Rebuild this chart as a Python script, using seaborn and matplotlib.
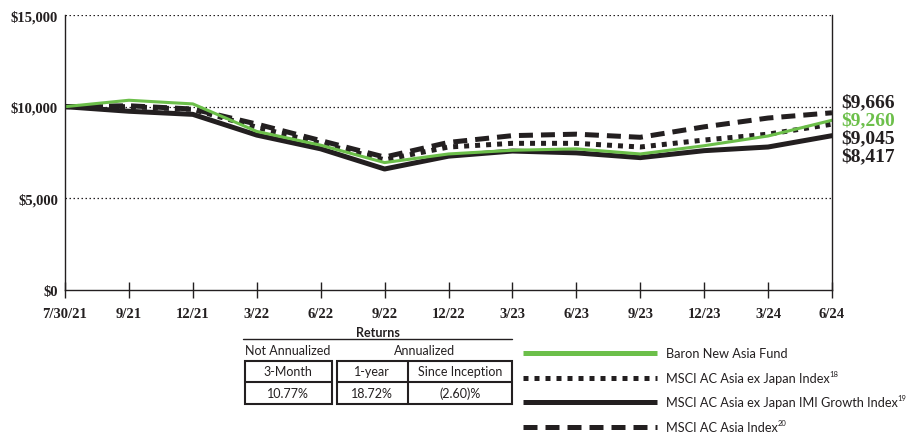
import numpy as np
import pandas as pd
import matplotlib
matplotlib.use("Agg")
import matplotlib.pyplot as plt
import seaborn as sns
from matplotlib.lines import Line2D
from matplotlib.patches import Rectangle

################# Data #################

dates = ["7/30/21", "9/21", "12/21", "3/22", "6/22", "9/22", "12/22",
         "3/23", "6/23", "9/23", "12/23", "3/24", "6/24"]

fund = [10000, 10350, 10150, 8650, 7900, 6950, 7420, 7620, 7700, 7420, 7870, 8400, 9260]
asia_ex_japan = [10000, 10000, 9850, 8880, 8000, 7100, 7800, 8000, 8000, 7800, 8180, 8500, 9045]
imi_growth = [10000, 9750, 9580, 8450, 7700, 6600, 7300, 7580, 7480, 7220, 7600, 7800, 8417]
ac_asia = [10000, 10050, 9870, 9050, 8150, 7250, 8050, 8420, 8500, 8330, 8900, 9380, 9666]

end_labels = ["$9,666", "$9,260", "$9,045", "$8,417"]
y_ticks = [0, 5000, 10000, 15000]
y_tick_labels = ["$0", "$5,000", "$10,000", "$15,000"]

return_headers = ["3-Month", "1-year", "Since Inception"]
return_values = ["10.77%", "18.72%", "(2.60)%"]

legend_names = ["Baron New Asia Fund", "MSCI AC Asia ex Japan Index",
                "MSCI AC Asia ex Japan IMI Growth Index", "MSCI AC Asia Index"]
legend_sups = ["", "18", "19", "20"]

GREEN = "#6cbf4a"
BLACK = "#231f20"

################# Plot #################

sns.set_style("white")
plt.rcParams["font.family"] = ["Lato", "DejaVu Sans"]

fig = plt.figure(figsize=(9.17, 4.35), dpi=100)
ax = fig.add_axes([65 / 917, 1 - 291 / 435, (832 - 65) / 917, (291 - 16) / 435])

x = np.arange(len(dates))
dot_style = (0, (1.0, 1.2))
dash_style = (0, (2.8, 1.6))

sns.lineplot(x=x, y=ac_asia, ax=ax, color=BLACK, linewidth=3.6, linestyle=dash_style)
sns.lineplot(x=x, y=asia_ex_japan, ax=ax, color=BLACK, linewidth=3.6, linestyle=dot_style)
sns.lineplot(x=x, y=imi_growth, ax=ax, color=BLACK, linewidth=3.6)
sns.lineplot(x=x, y=fund, ax=ax, color=GREEN, linewidth=2.2)

ax.set_xlim(0, len(dates) - 1)
ax.set_ylim(0, 15000)
ax.set_xticks(x)
ax.set_xticklabels(dates)
ax.set_yticks(y_ticks)
ax.set_yticklabels(y_tick_labels)
for v in y_ticks[1:]:
    ax.axhline(v, color=BLACK, linewidth=0.9, linestyle=(0, (1.2, 2.0)), zorder=0)

for side in ["left", "right", "bottom"]:
    ax.spines[side].set_visible(True)
    ax.spines[side].set_color(BLACK)
    ax.spines[side].set_linewidth(1.0)
ax.spines["top"].set_visible(False)

serif_bold = {"family": "Liberation Serif", "weight": "bold"}
ax.tick_params(axis="x", direction="inout", length=11, width=1.0, color=BLACK, pad=7,
               labelsize=10.5, bottom=True)
ax.tick_params(axis="y", length=0, pad=5, labelsize=10.5, left=True)
for lab in ax.get_xticklabels() + ax.get_yticklabels():
    lab.set_family("Liberation Serif")
    lab.set_weight("bold")
    lab.set_color(BLACK)
ax.set_xlabel("")
ax.set_ylabel("")

# overlay in pixel coordinates for annotations, table and legend
ov = fig.add_axes([0, 0, 1, 1], zorder=5)
ov.set_xlim(0, 917)
ov.set_ylim(435, 0)
ov.axis("off")
ov.patch.set_alpha(0)

end_colors = [BLACK, GREEN, BLACK, BLACK]
end_y = [103, 121, 139, 157]
for lab, c, yy in zip(end_labels, end_colors, end_y):
    ov.text(841, yy, lab, color=c, fontsize=14, va="center", ha="left", **serif_bold)

# Returns table
tfs = 9
ov.text(378, 333, "Returns", ha="center", va="center", fontsize=tfs, weight="bold", color=BLACK)
ov.plot([243, 512], [340, 340], color=BLACK, lw=1.0)
ov.text(288, 351, "Not Annualized", ha="center", va="center", fontsize=tfs, color=BLACK)
ov.text(425, 351, "Annualized", ha="center", va="center", fontsize=tfs, color=BLACK)

ov.add_patch(Rectangle((245, 362), 87, 43, fill=False, ec=BLACK, lw=1.5))
ov.add_patch(Rectangle((337, 362), 175, 43, fill=False, ec=BLACK, lw=1.5))
ov.plot([245, 332], [383, 383], color=BLACK, lw=1.5)
ov.plot([337, 512], [383, 383], color=BLACK, lw=1.5)
ov.plot([408, 408], [362, 405], color=BLACK, lw=1.5)

cell_x = [288, 372, 460]
for cx, h, v in zip(cell_x, return_headers, return_values):
    ov.text(cx, 372, h, ha="center", va="center", fontsize=tfs, color=BLACK)
    ov.text(cx, 394, v, ha="center", va="center", fontsize=tfs, color=BLACK)

# Legend
leg_styles = [
    dict(color=GREEN, lw=3.6, ls="-"),
    dict(color=BLACK, lw=3.6, ls=dot_style),
    dict(color=BLACK, lw=3.6, ls="-"),
    dict(color=BLACK, lw=3.6, ls=dash_style),
]
leg_y = [354, 379, 403, 428]
fig.canvas.draw()
renderer = fig.canvas.get_renderer()
for name, sup, st, yy in zip(legend_names, legend_sups, leg_styles, leg_y):
    ov.add_line(Line2D([523, 657], [yy, yy], solid_capstyle="butt",
                       dash_capstyle="butt", **st))
    t = ov.text(666, yy, name, ha="left", va="center", fontsize=9.2, color=BLACK)
    if sup:
        bb = t.get_window_extent(renderer)
        px = bb.x1 / fig.dpi / 9.17 * 917
        ov.text(px, yy - 4, sup, ha="left", va="center", fontsize=5.5, color=BLACK)

fig.savefig("out.png", dpi=100)
